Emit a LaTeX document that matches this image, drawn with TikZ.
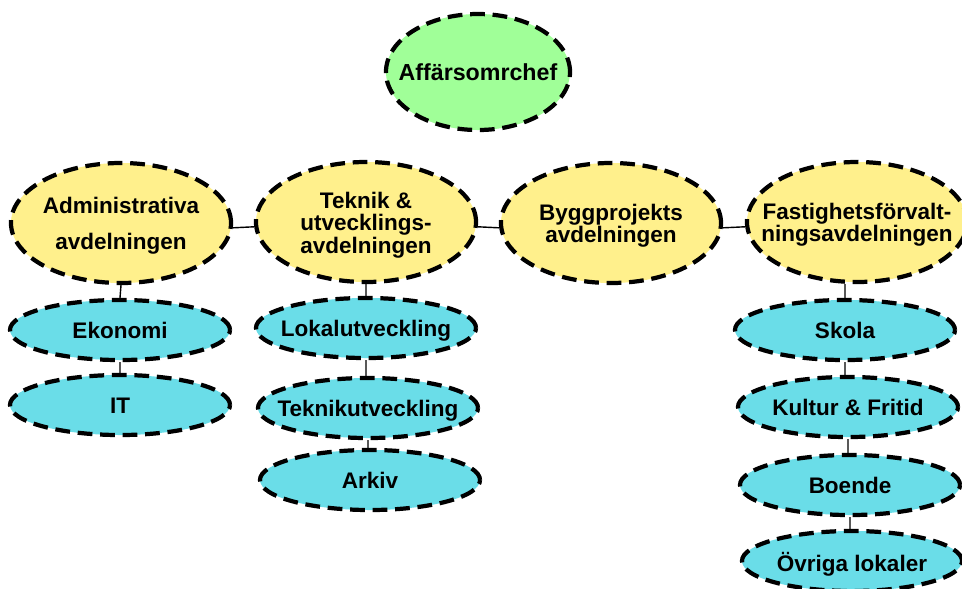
\documentclass[tikz,border=0pt]{standalone}
\usepackage{fontspec}
\setmainfont{Liberation Sans}
\usepackage{tikz}
\usetikzlibrary{shapes.geometric, positioning}
\definecolor{chefgreen}{RGB}{160,255,152}
\definecolor{avdyellow}{RGB}{255,240,140}
\definecolor{enhcyan}{RGB}{106,221,232}
% zero-size label, so the ellipse keeps its own size
\newcommand{\lbl}[1]{\makebox[0pt]{\smash{\raisebox{-0.24cm}{\begin{tabular}{@{}c@{}}#1\end{tabular}}}}}
\tikzset{
  unit/.style={ellipse, draw=black, line width=3pt, dash pattern=on 10.5pt off 5.5pt,
    inner sep=0pt, font=\fontsize{16}{14.5}\selectfont\bfseries},
  chef/.style={unit, fill=chefgreen, minimum width=4.6cm, minimum height=2.9cm,
    font=\fontsize{16.5}{16}\selectfont\bfseries},
  avd/.style={unit, fill=avdyellow, minimum width=5.5cm, minimum height=3cm},
  enhet/.style={unit, fill=enhcyan, minimum width=5.5cm, minimum height=1.5cm},
  link/.style={draw=black, line width=1pt}
}

\begin{document}
\begin{tikzpicture}[x=0.025cm, y=-0.025cm]
                                \useasboundingbox (0,0) rectangle (962,588);

                                \node[chef] (chef) at (478, 72) {\lbl{Aff\"arsomrchef}};

                                \node[avd] (adm) at (121, 223) {\lbl{Administrativa\\[10pt]avdelningen}};
                                \node[avd] (tek) at (366, 222) {\lbl{Teknik \&\\utvecklings-\\avdelningen}};
                                \node[avd] (bygg) at (611, 223) {\lbl{Byggprojekts\\avdelningen}};
                                \node[avd] (fast) at (857, 222) {\lbl{Fastighetsf\"orvalt-\\ningsavdelningen}};

                                \node[enhet] (eko) at (120, 330) {\lbl{Ekonomi}};
                                \node[enhet] (it) at (120, 405) {\lbl{IT}};

                                \node[enhet] (lok) at (366, 328) {\lbl{Lokalutveckling}};
                                \node[enhet] (tku) at (368, 408) {\lbl{Teknikutveckling}};
                                \node[enhet] (ark) at (370, 480) {\lbl{Arkiv}};

                                \node[enhet] (sko) at (845, 330) {\lbl{Skola}};
                                \node[enhet] (kul) at (848, 407) {\lbl{Kultur \& Fritid}};
                                \node[enhet] (boe) at (850, 485) {\lbl{Boende}};
                                \node[enhet] (ovr) at (852, 561) {\lbl{\"Ovriga lokaler}};

                                \draw[link]
                                ([yshift=-0.12cm]adm.east) -- ([yshift=-0.12cm]tek.west)
                                ([yshift=-0.12cm]tek.east) -- ([yshift=-0.12cm]bygg.west)
                                ([yshift=-0.12cm]bygg.east) -- ([yshift=-0.12cm]fast.west);

                                \draw[link]
                                (adm.south) -- (eko.north)
                                (eko.south) -- (it.north)
                                (tek.south -| lok.north) -- (lok.north)
                                (lok.south) -- (lok.south |- tku.north)
                                (tku.south) -- (tku.south |- ark.north)
                                (fast.south -| sko.north) -- (sko.north)
                                (sko.south) -- (sko.south |- kul.north)
                                (kul.south) -- (kul.south |- boe.north)
                                (boe.south) -- (boe.south |- ovr.north);
                            \end{tikzpicture}
\end{document}
